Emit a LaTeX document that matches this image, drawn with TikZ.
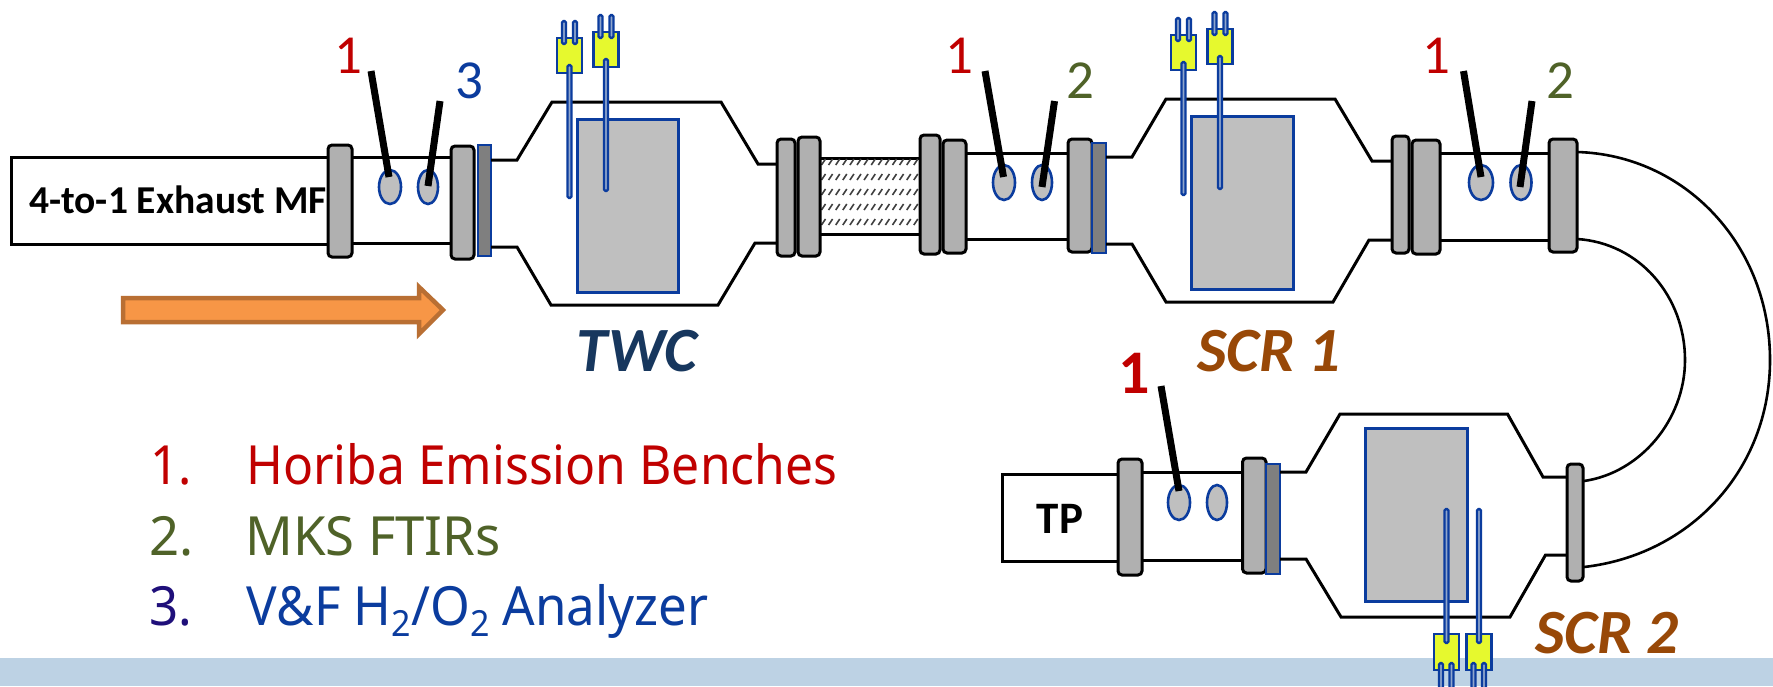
\documentclass[tikz,border=0pt]{standalone}
\usepackage{fontspec}
\setmainfont{Carlito}
\newfontfamily\lgdA[FakeStretch=0.922]{Noto Sans}
\newfontfamily\lgdB[FakeStretch=0.976]{Noto Sans}
\newfontfamily\lgdC[FakeStretch=0.945]{Noto Sans}
\definecolor{ablue}{HTML}{0B3C9E}
\definecolor{abrick}{HTML}{BFBFBF}
\definecolor{aflange}{HTML}{B0B0B0}
\definecolor{aband}{HTML}{7F7F7F}
\definecolor{ared}{HTML}{C00000}
\definecolor{agreen}{HTML}{4F6228}
\definecolor{anavy}{HTML}{1F0F7A}
\definecolor{abar}{HTML}{BDD2E4}
\definecolor{ayellow}{HTML}{E6F92E}
\definecolor{arod}{HTML}{8FA6CC}
\definecolor{atwc}{HTML}{17375E}
\definecolor{ascr}{HTML}{984807}
\definecolor{aorb}{HTML}{B96F33}
\definecolor{aorf}{HTML}{F79646}
\tikzset{
 apipe/.style={draw=black,line width=3pt,line join=miter},
 abend/.style={draw=black,line width=2.6pt},
 aflg/.style={draw=black,fill=aflange,line width=3pt,rounded corners=4pt},
 abnd/.style={draw=ablue,fill=aband,line width=2.8pt},
 abrk/.style={draw=ablue,fill=abrick,line width=3pt},
 aport/.style={draw=ablue,fill=abrick,line width=2.6pt},
 aprobe/.style={draw=black,line width=7pt},
 arodst/.style={draw=ablue,fill=arod,line width=2.4pt,rounded corners=1.5pt},
 aplug/.style={draw=ablue,fill=ayellow,line width=2.8pt},
 anum/.style={font=\fontsize{55}{55}\selectfont,anchor=base,inner sep=0pt},
 aitem/.style={anchor=base west,inner sep=0pt},
 aname/.style={font=\fontsize{63}{63}\selectfont\bfseries\itshape,anchor=base,inner sep=0pt},
 atag/.style={anchor=base,inner sep=0pt},
}
\newcommand{\tcdown}[3]{% centre x, plug top, rod end
 \path[aplug] ({#1-12.5},#2) rectangle ({#1+12.5},{#2+35});
 \foreach \d in {-5.5,5.5}{\path[arodst] ({#1+\d-2},{#2-17}) rectangle ({#1+\d+2},{#2+6});}
 \path[arodst] ({#1-2},{#2+27}) rectangle ({#1+2},#3);
}
\newcommand{\tcup}[3]{% centre x, plug top, rod end
 \path[aplug] ({#1-12.5},#2) rectangle ({#1+12.5},{#2+36});
 \foreach \d in {-5.5,5}{\path[arodst] ({#1+\d-2},{#2+29}) rectangle ({#1+\d+2},{#2+56});}
 \path[arodst] ({#1-2},#3) rectangle ({#1+2},{#2+9});
}
\newcommand{\sbt}[1]{\raisebox{-.22em}{\fontsize{36}{36}\selectfont #1}}
\begin{document}
\begin{tikzpicture}[x=1pt,y=-1pt]
\useasboundingbox (0,0) rectangle (1773,686);
\fill[white] (0,0) rectangle (1773,686);
\fill[abar] (0,658) rectangle (1773,686);

% --- first line: manifold
\draw[apipe] (328,157) -- (11,157) -- (11,244) -- (328,244);
\draw[apipe] (352,157) -- (451,157) (352,243) -- (451,243);
\node[atag,font=\fontsize{39.5}{39.5}\selectfont\bfseries] (mf) at (178,213) {4-to-1 Exhaust MF};
\path[aflg] (328,145) rectangle (352,257);
\path[aflg] (451,146) rectangle (474,259);
\path[abnd] (478,145) rectangle (491,256);
\path[aport] (390,187) ellipse [x radius=11,y radius=17];
\path[aport] (428,187) ellipse [x radius=10,y radius=17];
\draw[aprobe] (371,71) -- (389,177);
\draw[aprobe] (440,101) -- (428,186);
\node[anum,text=ared] (l1a) at (348,73) {1};
\node[anum,text=ablue] (l3a) at (469,98) {3};

% --- TWC
\draw[apipe] (491,160) -- (517,160) -- (552,102) -- (721,102) -- (758,164) -- (778,164);
\draw[apipe] (491,247) -- (517,247) -- (551,305) -- (718,305) -- (755,243) -- (778,243);
\path[abrk] (577,119) rectangle (678,292);
\tcdown{569.5}{38}{198}
\tcdown{606}{32}{191}
\node[aname,text=atwc] (twc) at (637,371) {TWC};

% --- arrow
\filldraw[draw=aorb,fill=aorf,line width=4.5pt,line join=miter] (123,298) -- (419,298) -- (419,287) -- (443,310) -- (419,334) -- (419,322) -- (123,322) -- cycle;

% --- flex section
\draw[apipe] (820,158) -- (920,158) (820,234) -- (920,234);
\foreach \r in {162,177,192,207,222}{
 \foreach \k in {0,...,13}{
  \draw[line width=1.6pt,black!75] ({821.5+\k*7.1},{\r+3}) -- ({825.5+\k*7.1},{\r-3});
 }
}
\path[aflg] (777,139) rectangle (795,256);
\path[aflg] (798,137) rectangle (820,256);
\path[aflg] (920,135) rectangle (940,254);
\path[aflg] (943,140) rectangle (966,253);

% --- second instrument section
\draw[apipe] (966,153) -- (1068,153) (966,239) -- (1068,239);
\path[aflg] (1068,139) rectangle (1092,252);
\path[abnd] (1092,143) rectangle (1106,253);
\path[aport] (1004,182.5) ellipse [x radius=11,y radius=17.5];
\path[aport] (1042,182.5) ellipse [x radius=10,y radius=17.5];
\draw[aprobe] (985,71) -- (1003.5,177);
\draw[aprobe] (1054.5,101) -- (1042,187);
\node[anum,text=ared] (l1b) at (959,73) {1};
\node[anum,text=agreen] (l2b) at (1080,98) {2};

% --- SCR 1
\draw[apipe] (1106,157) -- (1132,157) -- (1166,99) -- (1335,99) -- (1372,161) -- (1392,161);
\draw[apipe] (1106,244) -- (1132,244) -- (1166,302) -- (1333,302) -- (1369,240) -- (1392,240);
\path[abrk] (1191,116) rectangle (1293,289);
\tcdown{1183.5}{35}{195}
\tcdown{1220}{29}{189}
\node[aname,text=ascr] (scra) at (1269,371) {SCR 1};

% --- third instrument section
\draw[apipe] (1440,153) -- (1550,153) (1440,240) -- (1550,240);
\path[aflg] (1392,136) rectangle (1409,253);
\path[aflg] (1412,140) rectangle (1440,254);
\path[aflg] (1549,139) rectangle (1577,252);
\path[aport] (1481,182.5) ellipse [x radius=12,y radius=17.5];
\path[aport] (1521,182.5) ellipse [x radius=10.5,y radius=17.5];
\draw[aprobe] (1463.5,71) -- (1481,177);
\draw[aprobe] (1532,101) -- (1520,187);
\node[anum,text=ared] (l1c) at (1436,73) {1};
\node[anum,text=agreen] (l2c) at (1560,98) {2};

% --- U-bend
\draw[abend] (1577,152) .. controls (1685,155) and (1770,245) .. (1770,360) .. controls (1770,470) and (1690,555) .. (1584,567);
\draw[abend] (1577,239) .. controls (1640,243) and (1685,297) .. (1685,360) .. controls (1685,420) and (1640,473) .. (1584,481);

% --- tailpipe section
\draw[apipe] (1118,474) -- (1002,474) -- (1002,561) -- (1118,561);
\draw[apipe] (1142,472) -- (1242,472) (1142,560) -- (1242,560);
\node[atag,font=\fontsize{45}{45}\selectfont\bfseries] (tp) at (1060,533) {TP};
\path[aflg] (1118,459) rectangle (1142,575);
\path[aflg] (1242.5,458) rectangle (1266,573);
\path[abnd] (1266,464) rectangle (1280,574);
\path[aport] (1179,502.5) ellipse [x radius=11,y radius=17.5];
\path[aport] (1217,502.5) ellipse [x radius=10,y radius=17.5];
\draw[aprobe] (1161,386) -- (1179,491);
\node[atag,font=\fontsize{62}{62}\selectfont\bfseries,text=ared] (l1d) at (1134,393) {1};

% --- SCR 2
\draw[apipe] (1280,472) -- (1306,472) -- (1340,414) -- (1507.5,414) -- (1543,477) -- (1567,477);
\draw[apipe] (1280,559) -- (1306,559) -- (1341,617) -- (1510,617) -- (1545.5,555) -- (1567,555);
\path[aflg] (1567,464) rectangle (1583,581);
\path[abrk] (1365,428) rectangle (1467,601);
\tcup{1446.5}{634}{509}
\tcup{1479}{634}{509}
\node[aname,text=ascr] (scrb) at (1607,653) {SCR 2};

% --- legend
\node[aitem,font=\lgdA\fontsize{54}{54}\selectfont,text=ared] (n1) at (150,484) {1.};
\node[aitem,font=\lgdA\fontsize{54}{54}\selectfont,text=ared] (t1) at (246,484) {Horiba Emission Benches};
\node[aitem,font=\lgdB\fontsize{54}{54}\selectfont,text=agreen] (n2) at (149,555) {2.};
\node[aitem,font=\lgdB\fontsize{54}{54}\selectfont,text=agreen] (t2) at (245,555) {MKS FTIRs};
\node[aitem,font=\lgdC\fontsize{54}{54}\selectfont,text=anavy] (n3) at (149,625) {3.};
\node[aitem,font=\lgdC\fontsize{54}{54}\selectfont,text=ablue] (t3) at (246,625) {V\&F H\sbt{2}/O\sbt{2} Analyzer};
\end{tikzpicture}
\end{document}
